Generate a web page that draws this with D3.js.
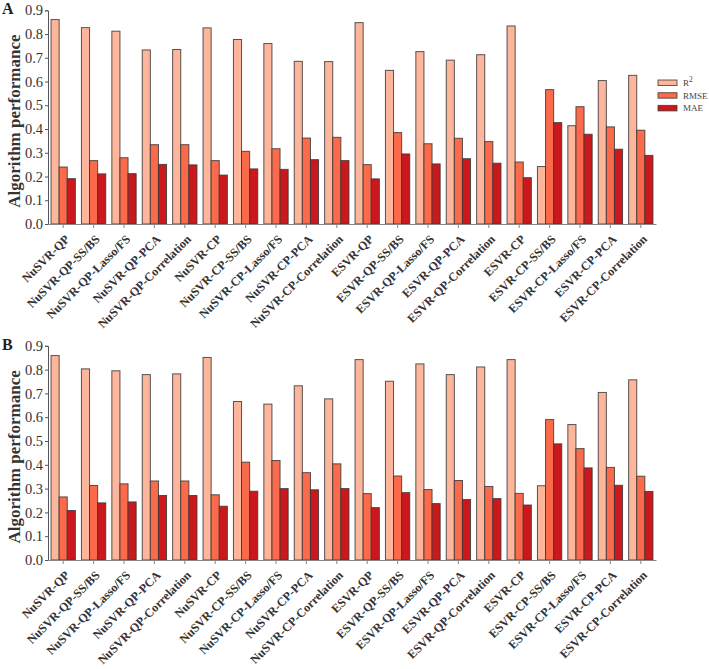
<!DOCTYPE html>
<html><head><meta charset="utf-8">
<script src="https://cdn.jsdelivr.net/npm/d3@7"></script>
<style>body{margin:0;background:#fff}svg{display:block}</style>
</head><body>
<script>
const categories = ["NuSVR-QP","NuSVR-QP-SS/BS","NuSVR-QP-Lasso/FS","NuSVR-QP-PCA","NuSVR-QP-Correlation",
  "NuSVR-CP","NuSVR-CP-SS/BS","NuSVR-CP-Lasso/FS","NuSVR-CP-PCA","NuSVR-CP-Correlation",
  "ESVR-QP","ESVR-QP-SS/BS","ESVR-QP-Lasso/FS","ESVR-QP-PCA","ESVR-QP-Correlation",
  "ESVR-CP","ESVR-CP-SS/BS","ESVR-CP-Lasso/FS","ESVR-CP-PCA","ESVR-CP-Correlation"];
const seriesNames = ["R2","RMSE","MAE"];
const yTicks = [0,0.1,0.2,0.3,0.4,0.5,0.6,0.7,0.8,0.9];

const A_R2   = [0.861,0.827,0.812,0.733,0.735,0.826,0.777,0.760,0.685,0.684,0.848,0.647,0.726,0.690,0.713,0.834,0.242,0.414,0.604,0.626];
const A_RMSE = [0.240,0.267,0.279,0.334,0.334,0.267,0.306,0.317,0.362,0.365,0.250,0.385,0.338,0.361,0.347,0.261,0.566,0.494,0.409,0.395];
const A_MAE  = [0.191,0.211,0.212,0.251,0.249,0.206,0.232,0.230,0.271,0.267,0.190,0.295,0.253,0.275,0.256,0.195,0.427,0.378,0.315,0.289];

const B_R2   = [0.859,0.803,0.795,0.779,0.782,0.851,0.666,0.655,0.732,0.677,0.842,0.751,0.824,0.779,0.811,0.842,0.312,0.569,0.704,0.757];
const B_RMSE = [0.265,0.313,0.320,0.332,0.332,0.274,0.411,0.418,0.367,0.404,0.279,0.353,0.296,0.334,0.309,0.280,0.590,0.468,0.389,0.352];
const B_MAE  = [0.208,0.240,0.244,0.271,0.271,0.226,0.289,0.300,0.295,0.300,0.220,0.283,0.237,0.254,0.258,0.231,0.488,0.387,0.314,0.288];

const colors = ["#FDB69B","#FB6A4A","#CB181D"];
const W = 709, H = 669;
const svg = d3.select("body").append("svg").attr("width", W).attr("height", H);
const serif = "Liberation Serif, Times New Roman, serif";

function panel(letter, data, y0, y9, withLegend) {
  const x = d3.scaleBand().domain(categories).range([48, 656]).paddingInner(0.2).paddingOuter(0.1);
  const xs = d3.scaleBand().domain(seriesNames).range([0, x.bandwidth()]);
  const y = d3.scaleLinear().domain([0, 0.9]).range([y0, y9]);
  const g = svg.append("g");

  const rows = categories.map((c, i) => ({c, vals: seriesNames.map((s, k) => ({s, k, v: data[k][i]}))}));
  const grp = g.selectAll("g.grp").data(rows).join("g").attr("transform", d => `translate(${x(d.c)},0)`);
  grp.selectAll("rect").data(d => d.vals).join("rect")
    .attr("x", d => xs(d.s)).attr("width", xs.bandwidth())
    .attr("y", d => y(d.v)).attr("height", d => y(0) - y(d.v))
    .attr("fill", d => colors[d.k]).attr("stroke", "#3a3a3a").attr("stroke-opacity", 0.85).attr("stroke-width", 1);

  const ya = g.append("g").attr("transform", `translate(48,0)`)
    .call(d3.axisLeft(y).tickValues(yTicks).tickFormat(d3.format(".1f")).tickSize(3).tickPadding(2));
  ya.select(".domain").attr("stroke", "#555");
  ya.selectAll(".tick line").attr("stroke", "#555");
  ya.selectAll("text").attr("font-family", serif).attr("font-size", 14.5).attr("fill", "#333");

  const xa = g.append("g").attr("transform", `translate(0,${y0})`)
    .call(d3.axisBottom(x).tickSize(4).tickSizeOuter(0));
  xa.select(".domain").attr("stroke", "#888").attr("stroke-width", 1.2);
  xa.selectAll(".tick line").attr("stroke", "#888");
  xa.selectAll("text")
    .attr("font-family", serif).attr("font-size", 12.2).attr("font-weight", "bold").attr("fill", "#333")
    .attr("text-anchor", "end").attr("dy", "0.35em")
    .attr("transform", "translate(-1,8) rotate(-45)");

  g.append("text").attr("transform", `translate(20,${(y0 + y9) / 2 + 4}) rotate(-90)`)
    .attr("text-anchor", "middle").attr("font-family", serif).attr("font-size", 17).attr("font-weight", "bold")
    .attr("fill", "#333").text("Algorithm performance");

  g.append("text").attr("x", 2).attr("y", y9 + 4).attr("font-family", serif).attr("font-size", 16)
    .attr("font-weight", "bold").attr("fill", "#222").text(letter);

  if (withLegend) {
    const lg = g.append("g").attr("transform", "translate(658,80)");
    const labels = ["R", "RMSE", "MAE"];
    labels.forEach((t, k) => {
      lg.append("rect").attr("x", 0).attr("y", k * 12.7).attr("width", 19).attr("height", 5.5)
        .attr("fill", colors[k]).attr("stroke", "#3a3a3a").attr("stroke-opacity", 0.8).attr("stroke-width", 1);
      const tx = lg.append("text").attr("x", 25).attr("y", k * 12.7 + 6).attr("font-family", serif)
        .attr("font-size", 9).attr("fill", "#444").text(t);
      if (k === 0) tx.append("tspan").attr("dy", -4).attr("font-size", 7.5).text("2");
    });
  }
}

panel("A", [A_R2, A_RMSE, A_MAE], 224, 10.3, true);
panel("B", [B_R2, B_RMSE, B_MAE], 560, 345.8, false);
</script>
</body></html>
